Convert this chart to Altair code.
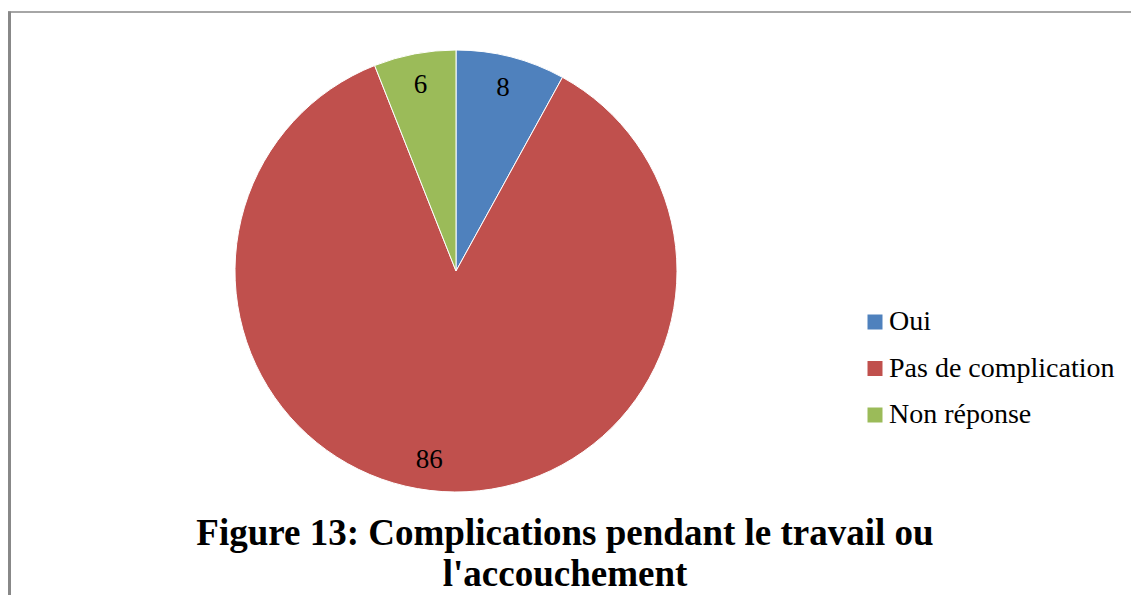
import altair as alt
import pandas as pd

categories = ["Oui", "Pas de complication", "Non réponse"]
values = [8, 86, 6]
colors = ["#4F81BD", "#C0504D", "#9BBB59"]
title_lines = ["Figure 13: Complications pendant le travail ou", "l'accouchement"]

df = pd.DataFrame({"cat": categories, "val": values, "order": list(range(len(categories)))})
one = pd.DataFrame({"k": [0]})
total = sum(values)

CX, CY, R = 448, 263, 221

arc = alt.Chart(df).mark_arc(outerRadius=R, stroke="white", strokeWidth=1).encode(
    theta=alt.Theta("val:Q", stack=True),
    order=alt.Order("order:Q"),
    x=alt.value(CX),
    y=alt.value(CY),
    color=alt.Color(
        "cat:N",
        sort=categories,
        scale=alt.Scale(domain=categories, range=colors),
        legend=alt.Legend(
            title=None,
            orient="none",
            legendX=853,
            legendY=300,
            symbolType="square",
            symbolSize=225,
            symbolStrokeWidth=0,
            labelFont="Liberation Serif",
            labelFontSize=28,
            labelColor="black",
            labelLimit=400,
            labelOffset=0,
            rowPadding=18.5,
            padding=0,
        ),
    ),
)

lab_base = alt.Chart(df).transform_window(
    cum="sum(val)", sort=[alt.SortField("order")]
).transform_calculate(
    mid="datum.cum - datum.val / 2"
)

theta_mid = alt.Theta("mid:Q", stack=None, scale=alt.Scale(domain=[0, total], range=[0, 6.283185307179586]))

lab_small = lab_base.transform_filter(alt.datum.val < 50).mark_text(
    radius=189, font="Liberation Serif", fontSize=27, color="black", baseline="middle"
).encode(theta=theta_mid, x=alt.value(CX), y=alt.value(CY), text="val:Q")

lab_big = lab_base.transform_filter(alt.datum.val >= 50).mark_text(
    radius=189, font="Liberation Serif", fontSize=27, color="black", baseline="middle", dx=-15
).encode(theta=theta_mid, x=alt.value(CX), y=alt.value(CY), text="val:Q")

title = alt.Chart(one).mark_text(
    font="Liberation Serif", fontSize=37, fontWeight="bold", color="black",
    align="center", baseline="alphabetic", lineBreak="\n", lineHeight=41,
).encode(x=alt.value(557), y=alt.value(537), text=alt.value("\n".join(title_lines)))

top_rule = alt.Chart(one).mark_rule(color="#888888", strokeWidth=1.5).encode(
    x=alt.value(0), x2=alt.value(1123), y=alt.value(4)
)
left_rule = alt.Chart(one).mark_rule(color="#888888", strokeWidth=3).encode(
    x=alt.value(1.5), y=alt.value(3.5), y2=alt.value(587)
)

chart = alt.layer(arc, lab_small, lab_big, title, top_rule, left_rule).properties(
    width=1123, height=587, padding=0, autosize="none", background="white"
).configure_view(stroke=None)

chart.save("out.html", embed_options={"renderer": "svg", "actions": False})
